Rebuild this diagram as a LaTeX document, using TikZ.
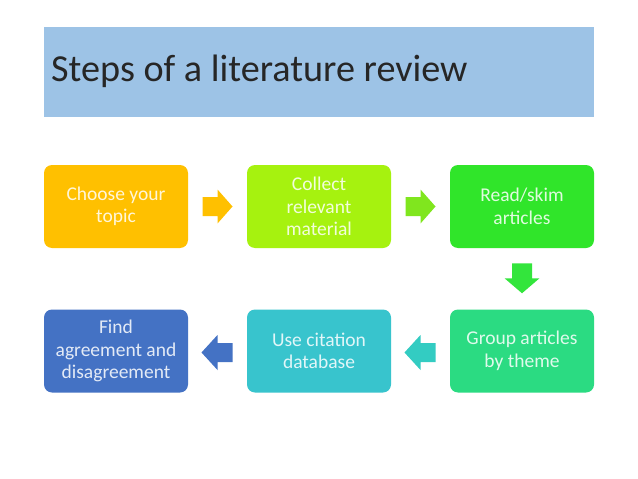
\documentclass[tikz,border=0pt]{standalone}
\usepackage{fontspec}
\setmainfont{Carlito}
\usetikzlibrary{calc}
\definecolor{titleband}{HTML}{9DC3E6}
\definecolor{cA}{HTML}{FFC000}
\definecolor{cB}{HTML}{A6F20F}
\definecolor{cC}{HTML}{30E52A}
\definecolor{cD}{HTML}{2BDB82}
\definecolor{cE}{HTML}{38C4CD}
\definecolor{cF}{HTML}{4472C4}
\definecolor{aA}{HTML}{FFC000}
\definecolor{aB}{HTML}{80E61E}
\definecolor{aC}{HTML}{33E53C}
\definecolor{aD}{HTML}{33CCC2}
\definecolor{aE}{HTML}{4472C4}
\begin{document}
\begin{tikzpicture}[x=1pt,y=-1pt,
  stepbox/.style={rounded corners=8pt, minimum width=144pt, minimum height=83pt,
    inner sep=0pt, align=center, fill=#1, text=white!85!#1,
    font=\fontsize{19.5}{22.5}\selectfont},
  ]
\useasboundingbox (0,0) rectangle (638,479);
\fill[white] (0,0) rectangle (638,479);
\node[fill=titleband, minimum width=550pt, minimum height=90pt, inner sep=0pt] (band) at (319,72) {};
\node[anchor=base west, inner sep=0pt, font=\fontsize{38.2}{40}\selectfont, text=black!85] (title) at (51,81) {Steps of a literature review};
\node[stepbox=cA] (b1) at (116,206.5) {Choose your\\topic};
\node[stepbox=cB] (b2) at (319,206.5) {Collect\\relevant\\material};
\node[stepbox=cC] (b3) at (522,206.5) {Read/skim\\articles};
\node[stepbox=cD] (b4) at (522,351) {Group articles\\by theme};
\node[stepbox=cE] (b5) at (319,351) {Use citation\\database};
\node[stepbox=cF] (b6) at (116,351) {Find\\agreement and\\disagreement};
% block arrows
\coordinate (m1) at ($(b1.east)!0.5!(b2.west)$);
\coordinate (m2) at ($(b2.east)!0.5!(b3.west)$);
\coordinate (m3) at ($(b3.south)!0.5!(b4.north)$);
\coordinate (m4) at ($(b4.west)!0.5!(b5.east)$);
\coordinate (m5) at ($(b5.west)!0.5!(b6.east)$);
\fill[aA] ([shift={(-15,-9.5)}]m1) -- ++(15,0) -- ++(0,-7.5) -- ++(15,17) -- ++(-15,17) -- ++(0,-7.5) -- ++(-15,0) -- cycle;
\fill[aB] ([shift={(-15,-9.5)}]m2) -- ++(15,0) -- ++(0,-7.5) -- ++(15,17) -- ++(-15,17) -- ++(0,-7.5) -- ++(-15,0) -- cycle;
\fill[aC] ([shift={(-10,-15.5)}]m3) -- ++(0,15) -- ++(-7.5,0) -- ++(17.5,15) -- ++(17.5,-15) -- ++(-7.5,0) -- ++(0,-15) -- cycle;
\fill[aD] ([shift={(15,-8)}]m4) -- ++(-15,0) -- ++(0,-8) -- ++(-16,17.5) -- ++(16,17.5) -- ++(0,-8) -- ++(15,0) -- cycle;
\fill[aE] ([shift={(15,-8)}]m5) -- ++(-15,0) -- ++(0,-8) -- ++(-16,17.5) -- ++(16,17.5) -- ++(0,-8) -- ++(15,0) -- cycle;
\end{tikzpicture}
\end{document}
